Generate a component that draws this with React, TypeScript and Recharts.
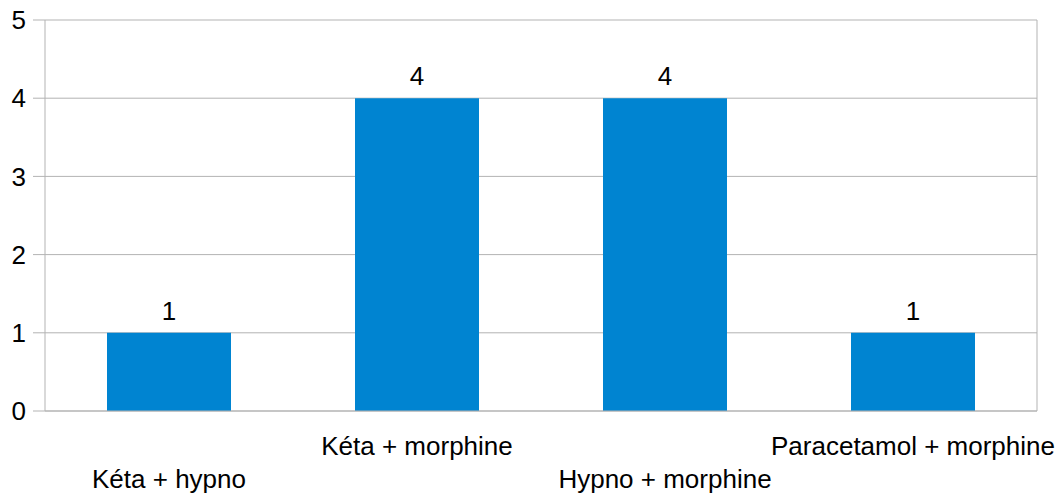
import React from "react";
import { BarChart, Bar, XAxis, YAxis, CartesianGrid, LabelList } from "recharts";

const categories = ["Kéta + hypno", "Kéta + morphine", "Hypno + morphine", "Paracetamol + morphine"];
const values = [1, 4, 4, 1];
const yTicks = [0, 1, 2, 3, 4, 5];
const boundaryTicks = [0, 1, 2, 3, 4];

const data = categories.map((name, i) => ({ name, value: values[i] }));

const FONT = "'Liberation Sans', Arial, sans-serif";
const GRID = "#b3b3b3";

const CategoryTick = (props: any) => {
  const { x, y, payload, index } = props;
  const low = index % 2 === 0;
  return (
    <text
      x={x}
      y={y + (low ? 77 : 44)}
      textAnchor="middle"
      fontFamily={FONT}
      fontSize={26}
      fill="#000"
    >
      {payload.value}
    </text>
  );
};

export default function App() {
  return (
    <div style={{ position: "absolute", left: 0, top: 0, background: "#fff" }}>
      <BarChart
        width={1063}
        height={497}
        data={data}
        margin={{ top: 20, right: 0, left: 0, bottom: 0 }}
        barCategoryGap="25%"
      >
        <CartesianGrid yAxisId="left" vertical={false} stroke={GRID} strokeWidth={1} />
        <XAxis
          xAxisId="b"
          type="number"
          domain={[0, 4]}
          ticks={boundaryTicks}
          tickFormatter={() => ""}
          axisLine={false}
          tickLine={{ stroke: GRID }}
          tickSize={11}
          height={0}
          allowDataOverflow
        />
        <XAxis
          dataKey="name"
          xAxisId="c"
          axisLine={{ stroke: GRID }}
          tickLine={false}
          tickSize={0}
          tickMargin={0}
          height={86}
          interval={0}
          tick={<CategoryTick />}
        />
        <YAxis
          yAxisId="left"
          domain={[0, 5]}
          ticks={yTicks}
          width={45}
          tickSize={12}
          tickMargin={7}
          axisLine={{ stroke: GRID }}
          tickLine={{ stroke: GRID }}
          tick={{ fontFamily: FONT, fontSize: 26, fill: "#000" }}
        />
        <YAxis
          yAxisId="r"
          orientation="right"
          domain={[0, 5]}
          width={26}
          tick={false}
          tickLine={false}
          axisLine={{ stroke: GRID }}
        />
        <Bar dataKey="value" xAxisId="c" yAxisId="left" fill="#0084d1" isAnimationActive={false}>
          <LabelList
            dataKey="value"
            position="top"
            offset={13}
            fontFamily={FONT}
            fontSize={26}
            fill="#000"
          />
        </Bar>
      </BarChart>
    </div>
  );
}
